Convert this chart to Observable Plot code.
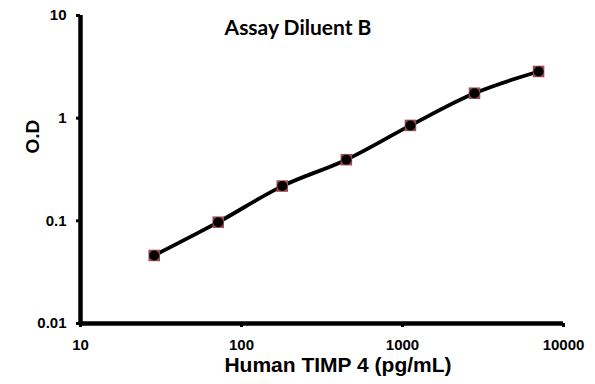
<!DOCTYPE html>
<html>
<head>
<meta charset="utf-8">
<script src="https://cdn.jsdelivr.net/npm/d3@7"></script>
<script src="https://cdn.jsdelivr.net/npm/@observablehq/plot@0.6"></script>
<style>
  html, body { margin: 0; padding: 0; background: #fff; }
  #chart svg { display: block; }
</style>
</head>
<body>
<div id="chart"></div>
<script>
const concentrations = [28.7, 71.7, 179.2, 448, 1120, 2800, 7000];
const odValues = [0.046, 0.097, 0.218, 0.394, 0.85, 1.75, 2.85];
const xTicks = [10, 100, 1000, 10000];
const yTicks = [0.01, 0.1, 1, 10];
const titleText = "Assay Diluent B";
const xLabel = "Human TIMP 4 (pg/mL)";
const yLabel = "O.D";

const data = concentrations.map((c, i) => ({conc: c, od: odValues[i]}));
const ARIAL = "Arial, 'Liberation Sans', sans-serif";

const chart = Plot.plot({
  width: 595,
  height: 384,
  marginLeft: 80,
  marginRight: 32,
  marginTop: 15,
  marginBottom: 61,
  style: {fontFamily: ARIAL, fontWeight: "bold", fontSize: "15px", color: "#000", background: "#fff"},
  x: {type: "log", domain: [10, 10000], label: null},
  y: {type: "log", domain: [0.01, 10], label: null},
  marks: [
    Plot.axisX({ticks: xTicks, tickFormat: d => String(d), tickSize: 4, tickPadding: 12, strokeWidth: 3, fontSize: 15, fontWeight: "bold", fontFamily: ARIAL, label: null}),
    Plot.axisY({ticks: yTicks, tickFormat: d => String(d), tickSize: 4, tickPadding: 10, strokeWidth: 3, fontSize: 15, fontWeight: "bold", fontFamily: ARIAL, label: null}),
    Plot.ruleY([0.01], {stroke: "#000", strokeWidth: 4.5}),
    Plot.ruleX([10], {stroke: "#000", strokeWidth: 4.5}),
    Plot.line(data, {x: "conc", y: "od", stroke: "#000", strokeWidth: 3.8, curve: "catmull-rom"}),
    Plot.dot(data, {x: "conc", y: "od", symbol: "square", r: 6.5, fill: "#9b4a4e", stroke: "none"}),
    Plot.dot(data, {x: "conc", y: "od", r: 5, fill: "#000", stroke: "none"}),
    Plot.text([titleText], {frameAnchor: "top", dx: -24, dy: 5, fontSize: 21, fontWeight: "bold", fontFamily: "Lato, 'Open Sans', sans-serif", fill: "#000", textAnchor: "middle"}),
    Plot.text([xLabel], {frameAnchor: "bottom", dx: 16, dy: 48, fontSize: 21, fontWeight: "bold", fontFamily: ARIAL, fill: "#000"}),
    Plot.text([yLabel], {frameAnchor: "left", rotate: -90, dx: -48, dy: -16, fontSize: 19, fontWeight: "bold", fontFamily: ARIAL, fill: "#000"})
  ]
});
document.getElementById("chart").appendChild(chart);
</script>
</body>
</html>
